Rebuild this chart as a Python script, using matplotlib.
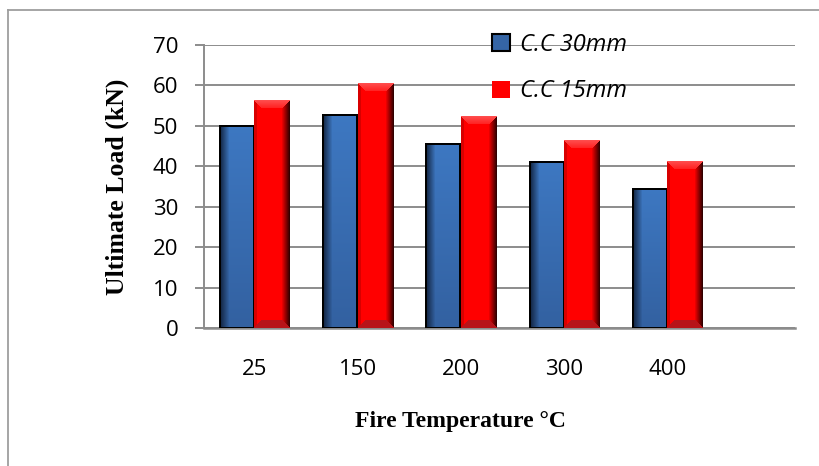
import numpy as np
import matplotlib
matplotlib.use("Agg")
import matplotlib.pyplot as plt
from matplotlib.patches import Rectangle
from matplotlib.lines import Line2D

categories = ['25', '150', '200', '300', '400']
cc30 = [50.0, 52.9, 45.6, 41.2, 34.6]
cc15 = [56.2, 60.5, 52.4, 46.5, 41.3]
series_names = ['C.C 30mm', 'C.C 15mm']
yticks = [0, 10, 20, 30, 40, 50, 60, 70]

W, H = 819, 466
fig = plt.figure(figsize=(W / 100, H / 100), dpi=100)
ax = fig.add_axes([204 / W, 138 / H, (795 - 204) / W, (328 - 45) / H])

x = np.arange(len(categories))
bw = 0.345
blue = '#3565a5'
red = '#ff0000'
b1 = ax.bar(x - bw / 2, cc30, bw, color=blue, edgecolor='none', zorder=3)
b2 = ax.bar(x + bw / 2, cc15, bw, color=red, edgecolor='none', zorder=3)

XLIM = (-0.489, 5.237)
ax.set_xlim(*XLIM)
ax.set_ylim(0, 70)
ax.set_yticks(yticks)
ax.set_xticks(x)
ax.set_xticklabels(categories)

grid_c = (0.55, 0.55, 0.55)
ax.yaxis.grid(True, color=grid_c, lw=1.4, zorder=0)
ax.set_axisbelow(True)
for s in ['top', 'right']:
    ax.spines[s].set_visible(False)
ax.spines['left'].set_color(grid_c)
ax.spines['left'].set_linewidth(1.4)
ax.spines['bottom'].set_color(grid_c)
ax.spines['bottom'].set_linewidth(1.8)

ax.tick_params(axis='y', length=6.5, width=1.4, color=grid_c, pad=12,
               labelsize=16)
ax.tick_params(axis='x', length=0, pad=22, labelsize=16)
for lab in ax.get_xticklabels() + ax.get_yticklabels():
    lab.set_fontfamily('Open Sans')

fig.canvas.draw()


def shade(patch, kind):
    x0, y0 = patch.get_x(), patch.get_y()
    w, h = patch.get_width(), patch.get_height()
    p0 = ax.transData.transform((x0, y0))
    p1 = ax.transData.transform((x0 + w, y0 + h))
    npx = max(int(round(p1[0] - p0[0])), 4)
    npy = max(int(round(p1[1] - p0[1])), 4)
    ii, jj = np.mgrid[0:npy, 0:npx]
    img = np.zeros((npy, npx, 4))
    img[..., 3] = 1.0
    dt = ii
    db = npy - 1 - ii
    dl = jj
    dr = npx - 1 - jj
    if kind == 'red':
        b = 8
        img[..., 0] = 1.0
        m_r = (dr < b) & (dr <= dt) & (dr <= db)
        t = (b - dr) / b
        img[..., 0] = np.where(m_r, 1.0 - 0.8 * t, img[..., 0])
        m_l = (dl < 3) & (dl <= dt) & (dl <= db)
        img[..., 0] = np.where(m_l, 0.85, img[..., 0])
        m_t = (dt < b) & (dt <= dl) & (dt <= dr)
        tt = (b - dt) / b
        img[..., 0] = np.where(m_t, 1.0, img[..., 0])
        img[..., 1] = np.where(m_t, 0.12 + 0.18 * tt, img[..., 1])
        img[..., 2] = np.where(m_t, 0.12 + 0.18 * tt, img[..., 2])
        m_b = (db < b) & (db <= dl) & (db <= dr)
        img[..., 0] = np.where(m_b, 0.72, img[..., 0])
        img[..., 1] = np.where(m_b, 0.08, img[..., 1])
        img[..., 2] = np.where(m_b, 0.1, img[..., 2])
    else:
        top = np.array([0.24, 0.47, 0.76])
        bot = np.array([0.20, 0.38, 0.63])
        f = (ii / max(npy - 1, 1))[..., None]
        col = top * (1 - f) + bot * f
        b = 10
        t = np.clip((b - dl) / b, 0, 1)[..., None]
        dark = np.array([0.06, 0.12, 0.22])
        col = col * (1 - t) + dark * t
        img[..., :3] = col
        edge = (dl < 2) | (dr < 2) | (dt < 2) | (db < 1)
        img[..., :3] = np.where(edge[..., None], 0.0, img[..., :3])
    ax.imshow(img, extent=[x0, x0 + w, y0, y0 + h], origin='upper',
              aspect='auto', interpolation='nearest', zorder=patch.get_zorder() + 0.5)


for p in b1.patches:
    shade(p, 'blue')
for p in b2.patches:
    shade(p, 'red')
ax.set_xlim(*XLIM)
ax.set_ylim(0, 70)

ax.set_ylabel('Ultimate Load (kN)', family='Liberation Serif', weight='bold',
              size=18.5)
ax.yaxis.label.set_rotation_mode('default')
ax.yaxis.label.set_va('center')
ax.yaxis.label.set_ha('center')
ax.yaxis.set_label_coords((117 - 204) / (795 - 204), 0.5)
fig.text(460.5 / W, 1 - 422 / H, 'Fire Temperature \u00b0C', family='Liberation Serif',
         weight='bold', size=17, ha='center', va='center')

# legend
h1 = Rectangle((0, 0), 1, 1, facecolor=blue, edgecolor='black', lw=1.5)
h2 = Rectangle((0, 0), 1, 1, facecolor=red, edgecolor='none')
leg = ax.legend([h1, h2], series_names, loc='upper left',
                bbox_to_anchor=(492 / W, 1 - 33 / H), bbox_transform=fig.transFigure,
                frameon=False, borderpad=0, borderaxespad=0,
                handlelength=0.75, handleheight=0.75, handletextpad=0.45,
                labelspacing=0.95,
                prop=dict(family='Open Sans', style='italic', size=17))

# outer frame
frame_c = (0.62, 0.62, 0.62)
fig.add_artist(Line2D([8 / W, 8 / W], [0, 1 - 10 / H], transform=fig.transFigure,
                      color=frame_c, lw=1.3))
fig.add_artist(Line2D([8 / W, 1], [1 - 10 / H, 1 - 10 / H], transform=fig.transFigure,
                      color=frame_c, lw=1.3))

fig.savefig('out.png', dpi=100)
